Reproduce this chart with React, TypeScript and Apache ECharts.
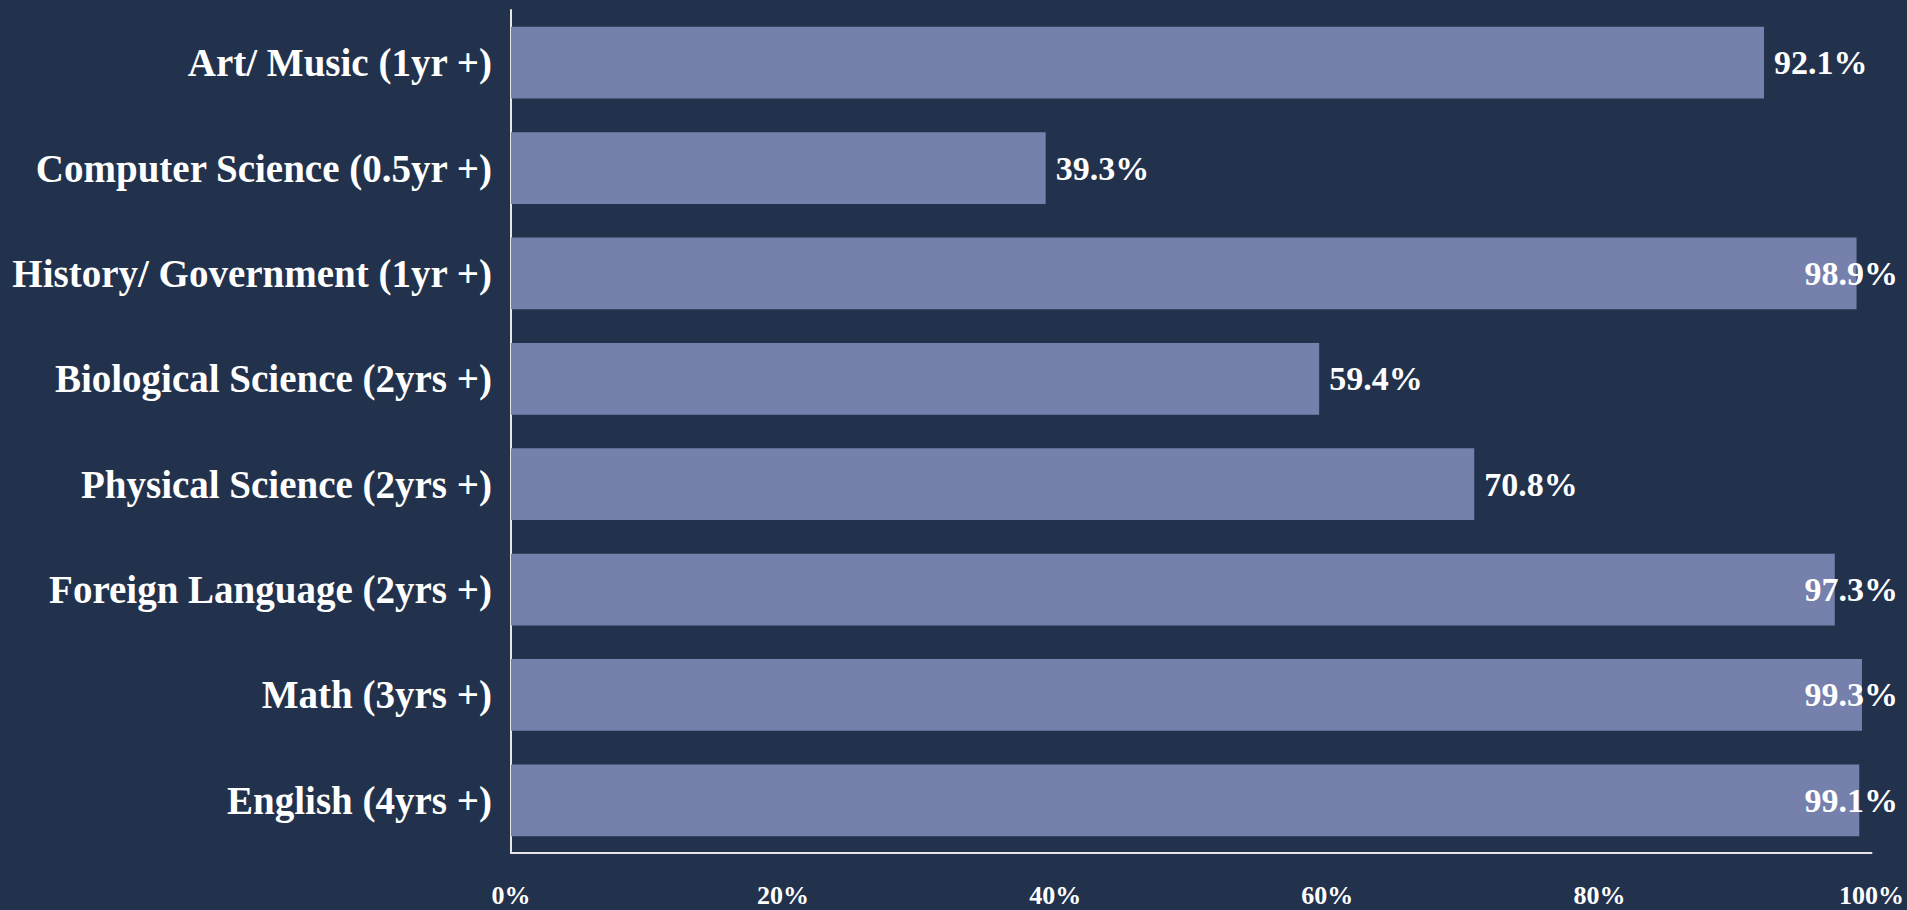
import React, { useEffect, useRef } from "react";
import * as echarts from "echarts";

const categories = [
  "Art/ Music (1yr +)",
  "Computer Science (0.5yr +)",
  "History/ Government (1yr +)",
  "Biological Science (2yrs +)",
  "Physical Science (2yrs +)",
  "Foreign Language (2yrs +)",
  "Math (3yrs +)",
  "English (4yrs +)",
];
const values = [92.1, 39.3, 98.9, 59.4, 70.8, 97.3, 99.3, 99.1];
const xTicks = { min: 0, max: 100, interval: 20 };

const W = 1907;
const H = 910;
const BG = "#22324d";
const BAR = "#7580ac";
const FONT = "'Liberation Serif', 'Times New Roman', serif";

export default function App() {
  const ref = useRef<HTMLDivElement>(null);
  useEffect(() => {
    if (!ref.current) return;
    const chart = echarts.init(ref.current, null, { renderer: "svg" });
    chart.setOption({
      animation: false,
      backgroundColor: BG,
      grid: { left: 511, right: 35, top: 10, bottom: 57, containLabel: false },
      xAxis: {
        type: "value",
        min: xTicks.min,
        max: xTicks.max,
        interval: xTicks.interval,
        splitLine: { show: false },
        axisTick: { show: false },
        axisLine: { show: true, lineStyle: { color: "#e6e6e6", width: 2 } },
        axisLabel: {
          formatter: "{value}%",
          color: "#ffffff",
          fontFamily: FONT,
          fontWeight: "bold",
          fontSize: 26,
          margin: 29,
        },
      },
      yAxis: {
        type: "category",
        data: categories,
        inverse: true,
        axisTick: { show: false },
        axisLine: { show: true, lineStyle: { color: "#e6e6e6", width: 2 } },
        axisLabel: {
          color: "#ffffff",
          fontFamily: FONT,
          fontWeight: "bold",
          fontSize: 39,
          margin: 19,
        },
      },
      series: [
        {
          type: "bar",
          data: values,
          barCategoryGap: "32%",
          itemStyle: { color: BAR },
          label: {
            show: true,
            position: "right",
            distance: 10,
            formatter: (p: any) => p.value.toFixed(1) + "%",
            color: "#ffffff",
            fontFamily: FONT,
            fontWeight: "bold",
            fontSize: 34,
          },
          labelLayout: (p: any) => {
            const r = p.labelRect;
            const maxRight = W - 9;
            if (r.x + r.width > maxRight) {
              return {
                x: maxRight - r.width,
                y: r.y + r.height / 2,
                align: "left",
                verticalAlign: "middle",
              };
            }
            return {};
          },
        },
      ],
    });
    return () => chart.dispose();
  }, []);
  return (
    <div
      ref={ref}
      style={{ position: "fixed", left: 0, top: 0, width: W, height: H, background: BG }}
    />
  );
}
